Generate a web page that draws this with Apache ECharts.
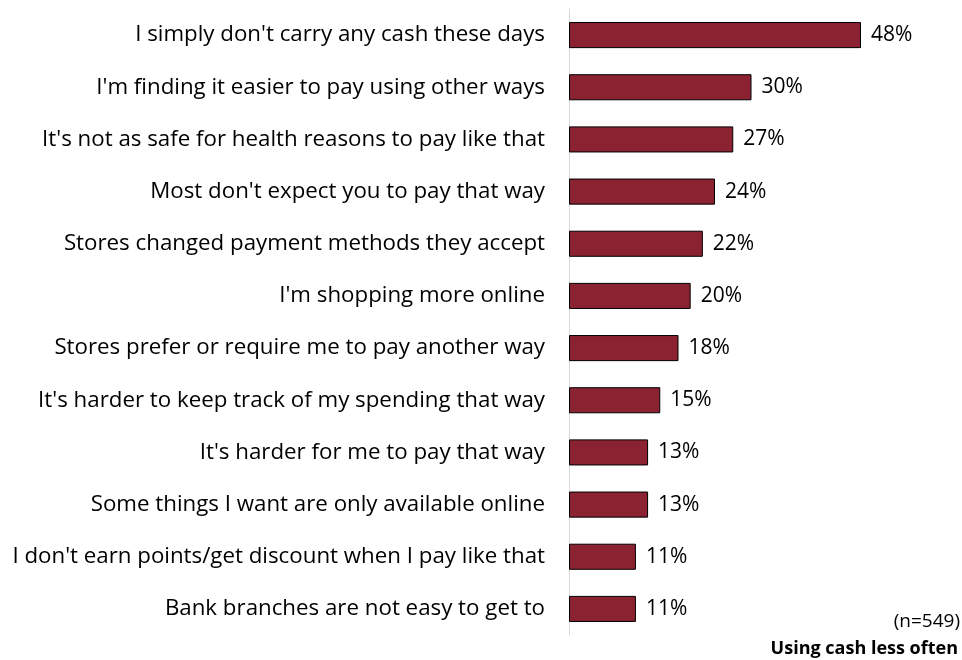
<!DOCTYPE html>
<html>
<head>
<meta charset="utf-8">
<script src="https://cdn.jsdelivr.net/npm/echarts@6/dist/echarts.min.js"></script>
<style>
  html, body { margin: 0; padding: 0; background: #fff; }
  #chart { width: 962px; height: 660px; }
</style>
</head>
<body>
<div id="chart"></div>
<script>
// Reasons for using cash less often (share of respondents, %)
const reasons = [
  "I simply don't carry any cash these days",
  "I'm finding it easier to pay using other ways",
  "It's not as safe for health reasons to pay like that",
  "Most don't expect you to pay that way",
  "Stores changed payment methods they accept",
  "I'm shopping more online",
  "Stores prefer or require me to pay another way",
  "It's harder to keep track of my spending that way",
  "It's harder for me to pay that way",
  "Some things I want are only available online",
  "I don't earn points/get discount when I pay like that",
  "Bank branches are not easy to get to"
];
const shares = [48, 30, 27, 24, 22, 20, 18, 15, 13, 13, 11, 11];
const sampleNote = "(n=549)";
const chartTitle = "Using cash less often";

const FONT = "Open Sans";
const chart = echarts.init(document.getElementById('chart'));
chart.setOption({
  animation: false,
  textStyle: { fontFamily: FONT },
  grid: { left: 569, right: 28, top: 9, bottom: 25, containLabel: false },
  xAxis: {
    type: 'value', min: 0, max: 60,
    show: false
  },
  yAxis: {
    type: 'category',
    inverse: true,
    data: reasons,
    axisLine: { show: true, lineStyle: { color: '#d9d9d9', width: 1 } },
    axisTick: { show: false },
    axisLabel: { color: '#000', fontSize: 22.3, margin: 24, fontFamily: FONT }
  },
  series: [{
    type: 'bar',
    data: shares,
    barWidth: '50%',
    itemStyle: { color: '#8B2232', borderColor: '#000', borderWidth: 1 },
    label: {
      show: true, position: 'right', distance: 10,
      formatter: p => p.value + '%',
      color: '#000', fontSize: 21, fontFamily: FONT
    }
  }],
  graphic: [
    { type: 'text', right: 2, top: 612,
      style: { text: sampleNote, fontSize: 19, fill: '#000', fontFamily: FONT } },
    { type: 'text', right: 4, top: 640,
      style: { text: chartTitle, fontSize: 18, fontWeight: 'bold', fill: '#000', fontFamily: FONT } }
  ]
});
</script>
</body>
</html>
